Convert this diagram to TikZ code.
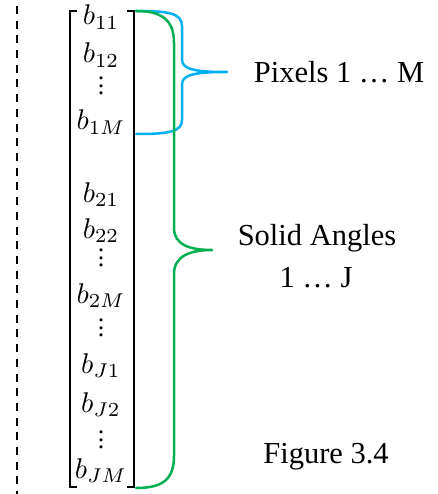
\documentclass[tikz,border=0pt]{standalone}
\usepackage{fontspec}
\setmainfont{Liberation Serif}
\definecolor{bblue}{RGB}{0,176,240}
\definecolor{bgreen}{RGB}{0,176,80}
\newcommand\myvdots{\vbox{\baselineskip=7.5pt\lineskiplimit=0pt\hbox{.}\hbox{.}\hbox{.}}}
\newcommand\bent[1]{\scalebox{2.85}{$b_{#1}$}}
\begin{document}
\begin{tikzpicture}[x=1pt,y=-1pt,
  entry/.style={anchor=base,inner sep=0pt},
  dotsnode/.style={inner sep=0pt,font=\fontsize{26}{28}\selectfont},
  lbl/.style={anchor=base,inner sep=0pt,font=\fontsize{30.5}{36}\selectfont},
  brk/.style={line width=2.8pt},
  bracepath/.style={line width=2.5pt,line cap=round,line join=round}]
\useasboundingbox (0,0) rectangle (437,494);
% dashed line
\coordinate (dtop) at (17,6);
\coordinate (dbot) at (17,494);
\draw[line width=2pt,dash pattern=on 8pt off 6.7pt] (dtop) -- (dbot);
% entries
\node[entry] (b11) at (101,25) {\bent{11}};
\node[entry] (b12) at (101,63) {\bent{12}};
\node[dotsnode] (v1) at (101,86) {\myvdots};
\node[entry] (b1M) at (101,130) {\bent{1M}};
\node[entry] (b21) at (101,202) {\bent{21}};
\node[entry] (b22) at (101,238) {\bent{22}};
\node[dotsnode] (v2) at (101,258) {\myvdots};
\node[entry] (b2M) at (101,303) {\bent{2M}};
\node[dotsnode] (v3) at (101,328) {\myvdots};
\node[entry] (bJ1) at (101,373) {\bent{J1}};
\node[entry] (bJ2) at (101,412) {\bent{J2}};
\node[dotsnode] (v4) at (101,440) {\myvdots};
\node[entry] (bJM) at (101,478) {\bent{JM}};
% brackets
\coordinate (ltop) at (70,11);
\coordinate (lbot) at (70,487);
\coordinate (rtop) at (134,11);
\coordinate (rbot) at (134,487);
\draw[brk] ([xshift=7pt]ltop) -- (ltop) -- (lbot) -- ([xshift=7pt]lbot);
\draw[brk] ([xshift=-7pt]rtop) -- (rtop) -- (rbot) -- ([xshift=-7pt]rbot);
% brace endpoints
\coordinate (bs) at (136,11);
\coordinate (be) at (136,134);
\coordinate (btip) at (227,72);
\coordinate (gs) at (136,11);
\coordinate (ge) at (136,488);
\coordinate (gtip) at (212,250);
% blue brace
\draw[bblue,bracepath] (bs) .. controls (168,11) and (182,13) .. (182,26)
  -- (182,60) .. controls (182,70) and (198,72) .. (btip)
  .. controls (198,72) and (182,74) .. (182,84)
  -- (182,120) .. controls (182,132) and (168,134) .. (be);
% green brace
\draw[bgreen,bracepath] (gs) .. controls (162,11) and (174,20) .. (174,43)
  -- (174,228) .. controls (174,245) and (190,250) .. (gtip)
  .. controls (190,250) and (174,256) .. (174,274)
  -- (174,456) .. controls (174,480) and (162,488) .. (ge);
% labels
\node[lbl] (pix) at (339,83) {Pixels 1 … M};
\node[lbl] (sol) at (317,245) {Solid Angles};
\node[lbl] (solj) at (316,287) {1 … J};
\node[lbl] (fig) at (326,463) {Figure 3.4};
\end{tikzpicture}
\end{document}
